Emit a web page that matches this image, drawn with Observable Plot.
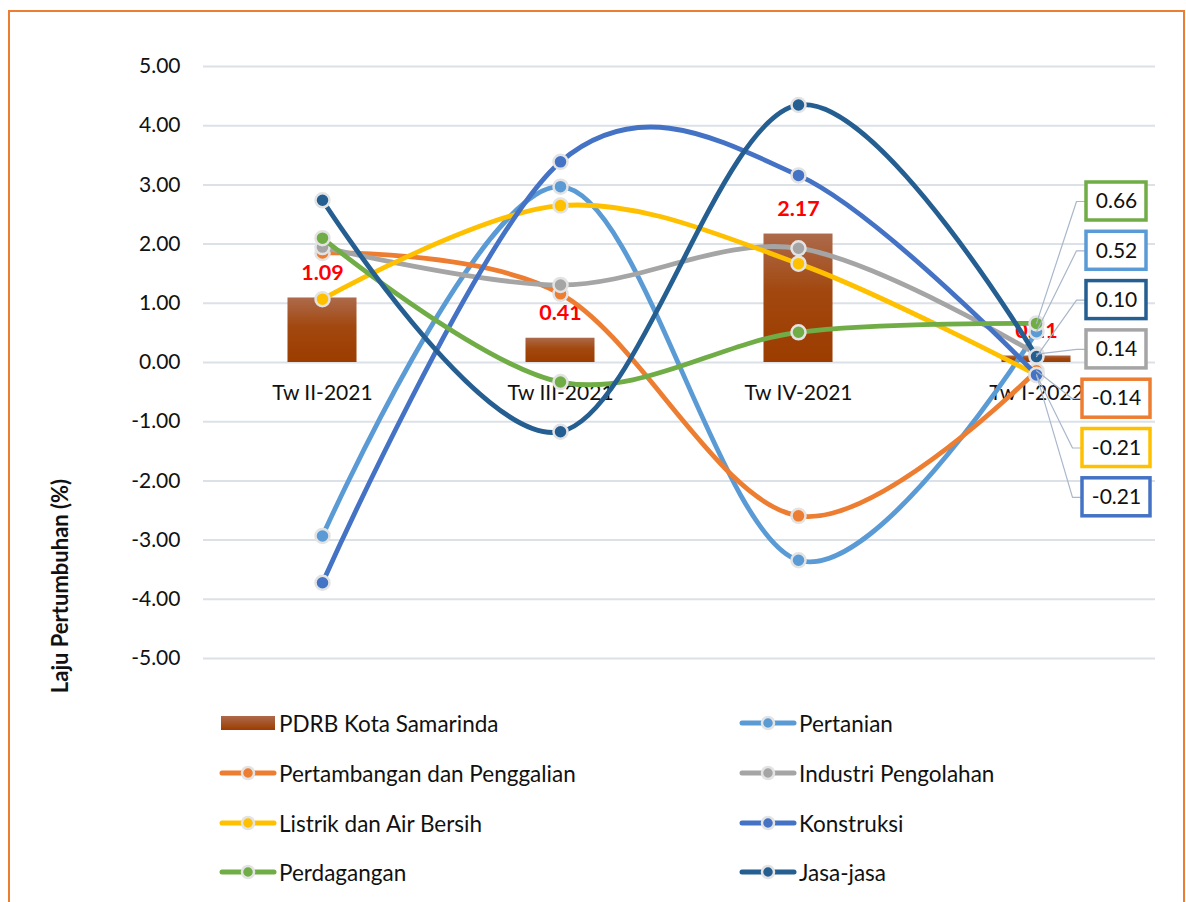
<!DOCTYPE html>
<html>
<head>
<meta charset="utf-8">
<script src="https://cdn.jsdelivr.net/npm/d3@7"></script>
<script src="https://cdn.jsdelivr.net/npm/@observablehq/plot@0.6"></script>
<style>
  body { margin: 0; background: #fff; font-family: Lato, "Noto Sans", sans-serif; color: #111; }
  #wrap { position: relative; width: 1186px; height: 902px; overflow: hidden; background: #fff; }
  #border { position: absolute; left: 8px; top: 10px; width: 1177px; height: 900px; border: 2px solid #ED7D31; border-bottom: none; box-sizing: border-box; }
  #chart { position: absolute; left: 0; top: 0; }
  #ytitle { position: absolute; left: 59px; top: 586px; transform: translate(-50%, -50%) rotate(-90deg); font-weight: bold; font-size: 22px; white-space: nowrap; }
  .leg { position: absolute; display: flex; align-items: center; font-size: 22.5px; height: 30px; white-space: nowrap; }
  .leg svg { display: block; margin-right: 2px; }
</style>
</head>
<body>
<div id="wrap">
  <div id="border"></div>
  <div id="chart"></div>
  <div id="ytitle">Laju Pertumbuhan (%)</div>
  <div id="legend"></div>
</div>
<script>
// ---- data ----
const categories = ["Tw II-2021", "Tw III-2021", "Tw IV-2021", "Tw I-2022"];
const pdrbName = "PDRB Kota Samarinda";
const pdrb = [1.09, 0.41, 2.17, 0.11];
const seriesNames = ["Pertanian", "Pertambangan dan Penggalian", "Industri Pengolahan", "Listrik dan Air Bersih", "Konstruksi", "Perdagangan", "Jasa-jasa"];
const pertanian    = [-2.93, 2.97, -3.34, 0.52];
const pertambangan = [1.85, 1.16, -2.59, -0.14];
const industri     = [1.95, 1.31, 1.93, 0.14];
const listrik      = [1.07, 2.65, 1.67, -0.21];
const konstruksi   = [-3.72, 3.39, 3.16, -0.21];
const perdagangan  = [2.10, -0.33, 0.51, 0.66];
const jasa         = [2.74, -1.17, 4.35, 0.10];
const seriesColors = ["#5B9BD5", "#ED7D31", "#A5A5A5", "#FFC000", "#4472C4", "#70AD47", "#255E91"];
// order of the end-of-line callouts (top to bottom)
const calloutOrder = ["Perdagangan", "Pertanian", "Jasa-jasa", "Industri Pengolahan", "Pertambangan dan Penggalian", "Listrik dan Air Bersih", "Konstruksi"];
const legendOrder = [pdrbName, "Pertanian", "Pertambangan dan Penggalian", "Industri Pengolahan", "Listrik dan Air Bersih", "Konstruksi", "Perdagangan", "Jasa-jasa"];

// ---- layout ----
const W = 1186, H = 690, mL = 203, mR = 31, mT = 66, mB = 32;
const xDomain = [-0.5, 3.5], yDomain = [-5, 5];
const xs = d3.scaleLinear(xDomain, [mL, W - mR]);
const ys = d3.scaleLinear(yDomain, [H - mB, mT]);

const seriesValues = [pertanian, pertambangan, industri, listrik, konstruksi, perdagangan, jasa];
const rows = seriesNames.flatMap((s, k) => seriesValues[k].map((v, i) => ({series: s, i, v, color: seriesColors[k]})));
const bars = pdrb.map((v, i) => ({i, v}));
const cats = categories.map((c, i) => ({i, c}));

// callouts for last category
const last = categories.length - 1;
const callouts = calloutOrder.map((s, j) => {
  const k = seriesNames.indexOf(s);
  const v = seriesValues[k][last];
  const cyPx = 201 + j * 49.3;
  const txt = v.toFixed(2);
  const w = v < 0 ? 68 : 60;
  const cxPx = xs(last) + 80;
  return {series: s, v, txt, color: seriesColors[k],
    ly: ys.invert(cyPx), lx: xs.invert(cxPx),
    x1: xs.invert(cxPx - w / 2), x2: xs.invert(cxPx + w / 2),
    y1: ys.invert(cyPx - 19), y2: ys.invert(cyPx + 19),
    ex: xs.invert(cxPx - w / 2 - 10)};
});
const leaders = callouts.flatMap(c => [
  {series: c.series, x: last, y: c.v},
  {series: c.series, x: c.ex, y: c.ly},
  {series: c.series, x: c.x1, y: c.ly}
]);

const seriesMarks = seriesNames.flatMap((s, k) => {
  const d = rows.filter(r => r.series === s);
  return [
    Plot.line(d, {x: "i", y: "v", curve: "cardinal", stroke: seriesColors[k], strokeWidth: 4.8, strokeLinecap: "round"}),
    Plot.dot(d, {x: "i", y: "v", r: 7, fill: seriesColors[k], stroke: "#E3E3E3", strokeWidth: 2.5})
  ];
});

const chart = Plot.plot({
  width: W, height: H,
  marginLeft: mL, marginRight: mR, marginTop: mT, marginBottom: mB,
  style: {fontFamily: "Lato, 'Noto Sans', sans-serif", fontSize: "21px", color: "#111", background: "transparent", overflow: "visible"},
  x: {domain: xDomain, axis: null},
  y: {domain: yDomain, ticks: 10, tickFormat: d => d.toFixed(2), tickSize: 0, tickPadding: 23, label: null},
  marks: [
    Plot.ruleY(d3.range(-5, 6), {stroke: "#DCE0E7", strokeWidth: 2}),
    Plot.rectY(bars, {x1: d => d.i - 0.145, x2: d => d.i + 0.145, y1: 0, y2: "v", fill: "url(#barGrad)"}),
    Plot.text(bars, {x: "i", y: "v", text: d => d.v.toFixed(2), dy: -25, fill: "#FF0000", fontWeight: "bold", fontSize: 21.5}),
    Plot.text(cats, {x: "i", y: 0, text: "c", dy: 31, fill: "#111", fontSize: 21}),
    ...seriesMarks,
    Plot.line(leaders, {x: "x", y: "y", z: "series", stroke: "#A9B7CB", strokeWidth: 1.2}),
    Plot.rect(callouts, {x1: "x1", x2: "x2", y1: "y1", y2: "y2", fill: "white", stroke: "color", strokeWidth: 3.5}),
    Plot.text(callouts, {x: "lx", y: "ly", text: "txt", fill: "#111", fontSize: 21})
  ]
});
d3.select(chart).insert("defs", ":first-child").html(
  `<linearGradient id="barGrad" x1="0" y1="0" x2="0" y2="1">
     <stop offset="0" stop-color="#AD6A4B"/>
     <stop offset="0.45" stop-color="#A2480F"/>
     <stop offset="1" stop-color="#9C3C00"/>
   </linearGradient>`);
document.getElementById("chart").appendChild(chart);

// ---- legend ----
const legend = document.getElementById("legend");
const rowsY = [723, 773, 823, 872];
legendOrder.forEach((name, idx) => {
  const col = idx % 2, row = Math.floor(idx / 2);
  const div = document.createElement("div");
  div.className = "leg";
  div.style.left = (col === 0 ? 219 : 739) + "px";
  div.style.top = (rowsY[row] - 15) + "px";
  let sym;
  if (name === pdrbName) {
    sym = `<svg width="58" height="20"><defs><linearGradient id="lg0" x1="0" y1="0" x2="0" y2="1"><stop offset="0" stop-color="#AD6A4B"/><stop offset="1" stop-color="#9C3C00"/></linearGradient></defs><rect x="2" y="3" width="54" height="14" fill="url(#lg0)"/></svg>`;
  } else {
    const c = seriesColors[seriesNames.indexOf(name)];
    sym = `<svg width="58" height="20"><line x1="3" y1="10" x2="55" y2="10" stroke="${c}" stroke-width="5" stroke-linecap="round"/><circle cx="29" cy="10" r="6" fill="${c}" stroke="#E3E3E3" stroke-width="2.5"/></svg>`;
  }
  div.innerHTML = sym + `<span>${name}</span>`;
  legend.appendChild(div);
});
</script>
</body>
</html>
